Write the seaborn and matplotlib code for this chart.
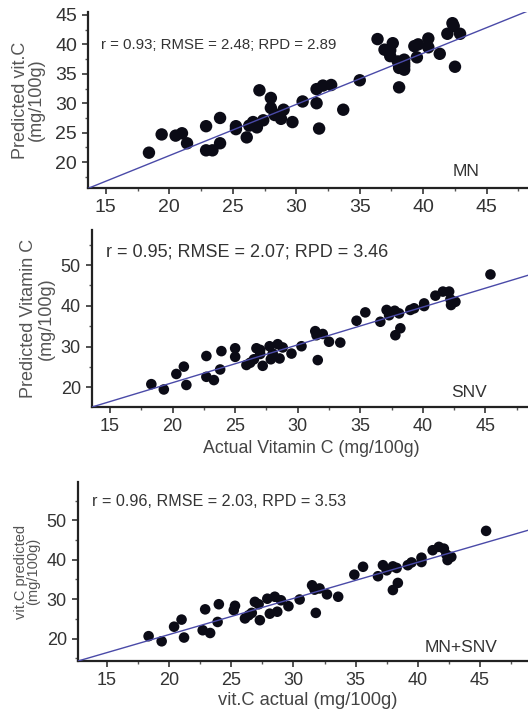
import numpy as np
import pandas as pd
import matplotlib
matplotlib.use("Agg")
import matplotlib.pyplot as plt
from matplotlib.ticker import MultipleLocator
import seaborn as sns

# ---------------- data ----------------
mn_actual = [18.4, 19.4, 20.5, 21.0, 21.4, 22.9, 22.9, 23.4, 24.0, 24.0, 25.25, 25.25,
             26.1, 26.3, 26.6, 26.9, 27.4, 27.1, 28.0, 28.0, 28.3, 28.6, 28.8, 29.0,
             29.7, 30.5, 31.6, 31.6, 31.8, 32.1, 32.75, 33.7, 35.0, 36.4, 36.95, 37.6,
             37.4, 37.4, 38.0, 38.1, 38.1, 38.5, 38.5, 38.5, 38.1, 39.3, 39.6, 39.5,
             40.4, 40.4, 41.3, 41.9, 42.3, 42.4, 42.5, 42.9, 38.5]
mn_pred = [21.6, 24.7, 24.5, 24.9, 23.2, 26.1, 22.0, 22.0, 27.5, 23.2, 26.1, 25.6,
           24.2, 26.2, 26.8, 25.9, 27.1, 32.2, 29.2, 30.9, 28.0, 28.0, 27.35, 28.9,
           26.8, 30.3, 30.0, 32.4, 25.7, 33.0, 33.1, 28.9, 33.9, 40.9, 39.1, 40.2,
           39.0, 38.0, 37.1, 36.5, 36.0, 35.7, 36.8, 37.4, 32.7, 39.7, 40.0, 37.8,
           41.0, 39.5, 38.4, 41.8, 43.6, 43.1, 36.2, 41.8, 36.3]

snv_actual = [18.3, 19.3, 20.3, 20.9, 21.1, 22.7, 22.7, 23.3, 23.9, 23.8, 25.0, 25.0,
              25.9, 26.2, 26.5, 26.7, 27.0, 27.0, 27.2, 27.75, 27.85, 28.0, 28.4, 28.55,
              28.8, 29.5, 30.3, 31.4, 31.5, 31.6, 32.0, 32.5, 33.4, 34.7, 35.4, 36.6,
              37.1, 37.3, 37.75, 38.1, 37.8, 38.2, 39.0, 39.3, 40.1, 40.1, 41.0, 41.6,
              42.1, 42.2, 42.25, 42.6, 45.4]
snv_pred = [20.8, 19.5, 23.3, 25.1, 20.6, 27.7, 22.6, 21.8, 28.9, 24.4, 29.6, 27.5,
            25.5, 26.05, 26.9, 29.6, 29.2, 28.2, 25.3, 30.1, 26.9, 28.3, 30.6, 27.1,
            29.8, 28.3, 30.1, 33.8, 32.8, 26.7, 33.1, 31.2, 31.0, 36.35, 38.4, 36.1,
            39.0, 37.7, 38.8, 38.15, 32.8, 34.5, 39.0, 39.4, 40.6, 39.95, 42.5, 43.5,
            43.5, 41.6, 40.2, 41.0, 47.7]

mnsnv_actual = [18.35, 19.4, 20.4, 21.0, 21.2, 22.9, 22.7, 23.3, 24.0, 23.9, 25.3, 25.2,
                26.1, 26.4, 26.65, 26.9, 27.2, 27.3, 27.9, 28.1, 28.5, 28.7, 29.0, 29.6,
                30.5, 31.5, 31.7, 31.8, 32.1, 32.7, 33.6, 34.9, 35.6, 36.8, 37.2, 37.5,
                38.0, 38.3, 38.0, 38.4, 39.2, 39.5, 40.3, 40.3, 41.2, 41.7, 42.1, 42.3,
                42.4, 42.7, 45.5]
mnsnv_pred = [20.6, 19.3, 23.0, 24.8, 20.25, 27.4, 22.1, 21.4, 28.7, 24.2, 28.3, 27.2,
              25.1, 25.9, 26.5, 29.3, 28.7, 24.65, 30.1, 26.3, 30.6, 26.8, 29.7, 28.2,
              29.9, 33.5, 32.4, 26.5, 32.7, 31.2, 30.6, 36.2, 38.2, 35.8, 38.6, 37.3,
              38.3, 37.9, 32.3, 34.1, 38.6, 39.3, 40.5, 39.4, 42.4, 43.25, 42.8, 41.3,
              39.9, 40.7, 47.3]

# regression lines (slope, intercept)
fit_slope = [0.87, 0.927, 0.916]
fit_intercept = [3.7, 2.63, 2.69]

stats_text = ["r = 0.93; RMSE = 2.48; RPD = 2.89",
              "r = 0.95; RMSE = 2.07; RPD = 3.46",
              "r = 0.96, RMSE = 2.03, RPD = 3.53"]
panel_names = ["MN", "SNV", "MN+SNV"]
ylabels = ["Predicted vit.C\n(mg/100g)", "Predicted Vitamin C\n(mg/100g)", "vit.C predicted\n(mg/100g)"]
xlabels = ["", "Actual Vitamin C (mg/100g)", "vit.C actual (mg/100g)"]
x_ticks = [15, 20, 25, 30, 35, 40, 45]
y_ticks = [[20, 25, 30, 35, 40, 45], [20, 30, 40, 50], [20, 30, 40, 50]]

# ---------------- plot ----------------
sns.set_style("ticks")
plt.rcParams['font.family'] = ['Liberation Sans', 'DejaVu Sans']

fig = plt.figure(figsize=(5.28, 7.14), dpi=100)
W, H = 528, 714
# pixel boxes: left, top, right, bottom
boxes = [(88, 12, 528, 188), (92, 230, 528, 407), (78, 482, 528, 661)]
xlims = [(13.6, 48.25), (13.56, 48.4), (12.67, 48.87)]
ylims = [(15.6, 45.5), (15.2, 58.6), (14.3, 59.7)]
ymin_step = [2.5, 5, 5]
sizes = [80, 58, 58]
fs_tick = [14, 13, 13]
fs_ylab = [13, 13, 10.5]
ylab_ls = [0.95, 1.05, 0.85]
ylab_x = [-0.0977, -0.085, -0.084]
fs_xlab = [12, 12.8, 13.2]
xlab_xy = [(0.5, -0.2), (0.502, -0.186), (0.511, -0.173)]
fs_text = [10.8, 13, 11.6]
text_pos = [(101, 45), (106, 252), (92, 502)]
name_pos = [(480, 172), (487, 392), (498, 647)]

datasets = [(mn_actual, mn_pred), (snv_actual, snv_pred), (mnsnv_actual, mnsnv_pred)]

for i in range(3):
    l, t, r, b = boxes[i]
    ax = fig.add_axes([l / W, 1 - b / H, (r - l) / W, (b - t) / H])
    xa, ya = datasets[i]
    df = pd.DataFrame({"actual": xa, "predicted": ya})
    sns.scatterplot(data=df, x="actual", y="predicted", ax=ax, color="#0b0b16",
                    s=sizes[i], edgecolor="none", zorder=3, legend=False)
    xs = np.array(xlims[i])
    ax.plot(xs, fit_slope[i] * xs + fit_intercept[i], color="#4a4aa8", lw=1.0, zorder=4)
    ax.set_xlim(*xlims[i])
    ax.set_ylim(*ylims[i])
    ax.set_xticks(x_ticks)
    ax.set_yticks(y_ticks[i])
    ax.xaxis.set_minor_locator(MultipleLocator(2.5))
    ax.yaxis.set_minor_locator(MultipleLocator(ymin_step[i]))
    for s in ["top", "right"]:
        ax.spines[s].set_visible(False)
    for s in ["left", "bottom"]:
        ax.spines[s].set_color("#222222")
        ax.spines[s].set_linewidth(1.6)
    ax.tick_params(which="major", direction="out", length=4, width=1.2, colors="#333333",
                   labelsize=fs_tick[i], labelcolor="#333333", pad=4)
    ax.tick_params(which="minor", direction="out", length=2.5, width=1.0, colors="#555555")
    ax.set_ylabel(ylabels[i], fontsize=fs_ylab[i], color="#555555", linespacing=ylab_ls[i])
    ax.yaxis.set_label_coords(ylab_x[i], 0.5)
    ax.set_xlabel(xlabels[i], fontsize=fs_xlab[i], color="#444444")
    ax.xaxis.set_label_coords(*xlab_xy[i])
    tx, ty = text_pos[i]
    fig.text(tx / W, 1 - ty / H, stats_text[i], fontsize=fs_text[i], color="#333333",
             va="center", ha="left")
    nx, ny = name_pos[i]
    fig.text(nx / W, 1 - ny / H, panel_names[i], fontsize=12.5, color="#333333",
             va="center", ha="right")

fig.savefig("out.png", dpi=100)
